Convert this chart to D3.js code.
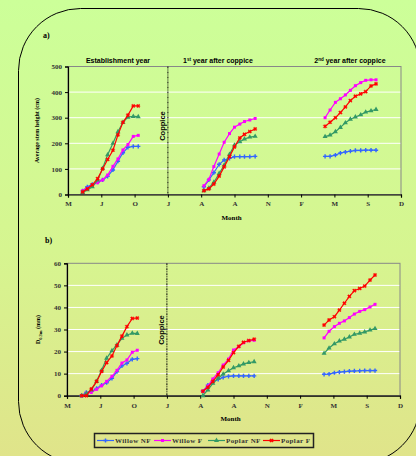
<!DOCTYPE html>
<html>
<head>
<meta charset="utf-8">
<script src="https://cdn.jsdelivr.net/npm/d3@7/dist/d3.min.js"></script>
<style>
  html, body { margin: 0; padding: 0; }
  svg { display: block; }
</style>
</head>
<body>
<div id="chart"></div>
<script>
// x positions in days from the first axis tick (one tick = 100 days)
const monthTicks = [0, 100, 200, 300, 400, 500, 600, 700, 800, 900, 1000];
const monthLabels = ['M', 'J', 'O', 'J', 'A', 'A', 'N', 'F', 'M', 'S', 'D'];
const coppiceDay = 300;

const estDays = [44, 58, 73, 89, 104, 119, 135, 150, 165, 180, 196, 211];
const yr1Days = [408, 423, 438, 454, 469, 485, 500, 516, 530, 546, 562];
const yr2Days = [772, 787, 803, 818, 833, 848, 863, 879, 894, 910, 925];

const seriesNames = ['Willow NF', 'Willow F', 'Poplar NF', 'Poplar F'];

// a) average stem height (cm): [establishment, 1st year, 2nd year]
const heightWillowNF = [
  [14, 30, 40, 48, 57, 71, 96, 130, 163, 184, 188, 188],
  [30, 57, 85, 118, 135, 141, 148, 148, 148, 148, 149],
  [149, 149, 154, 162, 166, 169, 172, 172, 173, 173, 173],
];
const heightWillowF = [
  [15, 24, 37, 46, 57, 76, 110, 139, 174, 195, 227, 231],
  [34, 59, 109, 158, 204, 238, 263, 275, 285, 291, 297],
  [300, 330, 360, 374, 389, 407, 425, 437, 446, 448, 448],
];
const heightPoplarNF = [
  [8, 18, 30, 56, 102, 155, 200, 245, 282, 302, 305, 304],
  [14, 25, 48, 82, 115, 157, 193, 206, 217, 224, 227],
  [226, 232, 245, 262, 280, 294, 303, 311, 322, 327, 332],
];
const heightPoplarF = [
  [10, 22, 38, 62, 100, 137, 173, 233, 282, 310, 346, 346],
  [15, 22, 41, 72, 108, 148, 186, 221, 235, 246, 256],
  [266, 282, 300, 320, 342, 367, 384, 393, 402, 424, 432],
];

// b) stem diameter at 0.3 m (mm)
const diamWillowNF = [
  [0, 1.5, 1.9, 3.3, 4.8, 5.9, 7.9, 10.9, 13.5, 14.7, 16.5, 16.8],
  [2, 4.8, 6.3, 7.4, 8.3, 8.8, 9, 9, 9, 9, 9],
  [9.7, 9.8, 10.4, 10.7, 10.9, 11.1, 11.2, 11.3, 11.4, 11.4, 11.4],
];
const diamWillowF = [
  [0, 1.2, 1.5, 2.9, 4.5, 6.5, 8.8, 11.5, 14.8, 16.2, 19.7, 20.6],
  [2.1, 4.4, 7.6, 10.4, 13.9, 16.6, 20.7, 22.2, 24, 24.9, 25.1],
  [26.2, 29.2, 31.3, 32.8, 33.9, 35.4, 37, 38.2, 39, 40.2, 41.4],
];
const diamPoplarNF = [
  [0, 1, 2.6, 6.5, 11.5, 17, 20.4, 23, 26, 27.5, 28.3, 28.2],
  [0, 2.6, 5.6, 7.9, 9.8, 11.3, 12.7, 13.5, 14.4, 15, 15.4],
  [19.2, 21.6, 23.5, 24.8, 25.6, 26.6, 27.8, 28.3, 28.9, 29.7, 30.4],
];
const diamPoplarF = [
  [0, 0, 3, 6.5, 11, 15, 18, 22.7, 27, 31.3, 35, 35.2],
  [2, 3.8, 6.5, 9.5, 13, 16, 19.5, 22.4, 24.2, 25, 25.6],
  [32, 34.3, 35.8, 38.8, 41.9, 45, 47.6, 48.6, 49.7, 52.4, 54.7],
];

const heightTicks = [0, 100, 200, 300, 400, 500];
const diamTicks = [0, 10, 20, 30, 40, 50, 60];

const colors = ['#3366ff', '#ff00ff', '#339966', '#ff0000'];
const symbols = [d3.symbolCross, d3.symbolSquare, d3.symbolTriangle, d3.symbolCross];
const symbolSizes = [10, 9, 11, 8];
const symbolRotate = [0, 0, 0, 45];

const W = 416, H = 456;
const serif = '"Liberation Serif", "Times New Roman", serif';
const sans = '"Liberation Sans", Arial, sans-serif';

const svg = d3.select('#chart').append('svg')
  .attr('width', W).attr('height', H);

const defs = svg.append('defs');
const grad = defs.append('linearGradient').attr('id', 'bg')
  .attr('x1', 0).attr('y1', 0).attr('x2', 0).attr('y2', 1);
grad.append('stop').attr('offset', '0%').attr('stop-color', '#ccff99');
grad.append('stop').attr('offset', '55%').attr('stop-color', '#d6f590');
grad.append('stop').attr('offset', '100%').attr('stop-color', '#e0e48a');

svg.append('rect').attr('width', W).attr('height', H).attr('fill', 'url(#bg)');
svg.append('rect')
  .attr('x', 18.5).attr('y', 8.5).attr('width', 402).attr('height', 455)
  .attr('rx', 62).attr('ry', 62)
  .attr('fill', 'none').attr('stroke', '#000').attr('stroke-width', 1);

function drawPanel(opt) {
  const { left, right, top, bottom, yMax, yTicks, series } = opt;
  const x = d3.scaleLinear().domain([0, 1000]).range([left, right]);
  const y = d3.scaleLinear().domain([0, yMax]).range([bottom, top]);
  const g = svg.append('g');

  // gridlines
  g.selectAll('line.grid')
    .data(yTicks.filter((t) => t > 0 && t < yMax))
    .enter().append('line')
    .attr('x1', left).attr('x2', right)
    .attr('y1', (d) => y(d)).attr('y2', (d) => y(d))
    .attr('stroke', '#fff').attr('stroke-width', 1);

  g.append('rect')
    .attr('x', left).attr('y', top)
    .attr('width', right - left).attr('height', bottom - top)
    .attr('fill', 'none').attr('stroke', '#888').attr('stroke-width', 1);

  // axes
  const yAxis = d3.axisLeft(y).tickValues(yTicks).tickSize(3).tickPadding(3);
  const ya = g.append('g').attr('transform', `translate(${left},0)`).call(yAxis);
  const xAxis = d3.axisBottom(x).tickValues(monthTicks)
    .tickFormat((d, i) => monthLabels[i]).tickSize(3).tickPadding(4);
  const xa = g.append('g').attr('transform', `translate(0,${bottom})`).call(xAxis);
  [ya, xa].forEach((a) => {
    a.select('.domain').attr('stroke', '#000').attr('stroke-width', 1.2);
    a.selectAll('.tick line').attr('stroke', '#000');
    a.selectAll('text')
      .style('font-family', serif).style('font-size', '7px')
      .style('font-weight', 'bold').attr('fill', '#333');
  });

  // coppice line
  g.append('line')
    .attr('x1', x(coppiceDay)).attr('x2', x(coppiceDay))
    .attr('y1', top).attr('y2', bottom)
    .attr('stroke', '#000').attr('stroke-width', 1)
    .attr('stroke-dasharray', '2,1,1,1');
  g.append('text')
    .attr('transform', `translate(${x(coppiceDay) - 3},${opt.coppiceY}) rotate(-90)`)
    .attr('text-anchor', 'middle')
    .style('font-family', sans).style('font-size', '7.5px').style('font-weight', 'bold')
    .text('Coppice');

  const dayGroups = [estDays, yr1Days, yr2Days];
  const line = d3.line().x((d) => x(d[0])).y((d) => y(d[1]));

  series.forEach((s, si) => {
    s.forEach((vals, gi) => {
      const pts = vals.map((v, i) => [dayGroups[gi][i], v]);
      g.append('path').datum(pts)
        .attr('d', line)
        .attr('fill', 'none').attr('stroke', colors[si]).attr('stroke-width', 1.2);
      g.selectAll(null).data(pts).enter().append('path')
        .attr('d', d3.symbol().type(symbols[si]).size(symbolSizes[si]))
        .attr('transform', (d) => `translate(${x(d[0])},${y(d[1])}) rotate(${symbolRotate[si]})`)
        .attr('fill', colors[si])
        .attr('stroke', si === 3 ? colors[si] : 'none')
        .attr('stroke-width', 0.4);
    });
  });

  // axis titles
  g.append('text')
    .attr('x', (left + right) / 2 - 3).attr('y', opt.monthY)
    .attr('text-anchor', 'middle')
    .style('font-family', serif).style('font-size', '7px').style('font-weight', 'bold')
    .text('Month');

  const yl = g.append('text')
    .attr('transform', `translate(${opt.yLabelX},${(top + bottom) / 2}) rotate(-90)`)
    .attr('text-anchor', 'middle')
    .style('font-family', serif).style('font-size', '6px').style('font-weight', 'bold');
  opt.yLabel(yl);

  svg.append('text')
    .attr('x', opt.tagX).attr('y', opt.tagY)
    .style('font-family', serif).style('font-size', '8px').style('font-weight', 'bold')
    .text(opt.tag);

  return x;
}

drawPanel({
  left: 68, right: 401, top: 66.5, bottom: 194.5,
  yMax: 500, yTicks: heightTicks,
  series: [heightWillowNF, heightWillowF, heightPoplarNF, heightPoplarF],
  coppiceY: 126, monthY: 220, yLabelX: 39,
  yLabel: (t) => t.text('Average stem height (cm)'),
  tag: 'a)', tagX: 43, tagY: 38,
});

drawPanel({
  left: 67, right: 400, top: 263.3, bottom: 395.7,
  yMax: 60, yTicks: diamTicks,
  series: [diamWillowNF, diamWillowF, diamPoplarNF, diamPoplarF],
  coppiceY: 330, monthY: 421, yLabelX: 40,
  yLabel: (t) => {
    t.append('tspan').text('D');
    t.append('tspan').attr('dy', 1.5).style('font-size', '4.5px').text('0.3m');
    t.append('tspan').attr('dy', -1.5).text(' (mm)');
  },
  tag: 'b)', tagX: 45, tagY: 243,
});

// period titles above panel a
const periodTitles = [
  { x: 118, main: 'Establishment year', sup: '', rest: '' },
  { x: 218, main: '1', sup: 'st', rest: ' year after coppice' },
  { x: 350, main: '2', sup: 'nd', rest: ' year after coppice' },
];
periodTitles.forEach((p) => {
  const t = svg.append('text')
    .attr('x', p.x).attr('y', 63)
    .attr('text-anchor', 'middle')
    .style('font-family', sans).style('font-size', '7px').style('font-weight', 'bold');
  t.append('tspan').text(p.main);
  if (p.sup) {
    t.append('tspan').attr('dy', -2.5).style('font-size', '4.5px').text(p.sup);
    t.append('tspan').attr('dy', 2.5).text(p.rest);
  }
});

// legend
const legend = svg.append('g');
legend.append('rect')
  .attr('x', 94.5).attr('y', 433.5).attr('width', 219).attr('height', 14)
  .attr('fill', 'none').attr('stroke', '#222').attr('stroke-width', 1.5);
const legendX = [97, 154, 208, 263];
seriesNames.forEach((name, i) => {
  const lx = legendX[i];
  legend.append('line')
    .attr('x1', lx).attr('x2', lx + 17).attr('y1', 440.5).attr('y2', 440.5)
    .attr('stroke', colors[i]).attr('stroke-width', 1.2);
  legend.append('path')
    .attr('d', d3.symbol().type(symbols[i]).size(symbolSizes[i]))
    .attr('transform', `translate(${lx + 8.5},440.5) rotate(${symbolRotate[i]})`)
    .attr('fill', colors[i])
    .attr('stroke', i === 3 ? colors[i] : 'none').attr('stroke-width', 0.4);
  legend.append('text')
    .attr('x', lx + 18).attr('y', 443)
    .style('font-family', serif).style('font-size', '7px').style('font-weight', 'bold')
    .style('letter-spacing', '0.4px').attr('fill', '#333')
    .text(name);
});
</script>
</body>
</html>
